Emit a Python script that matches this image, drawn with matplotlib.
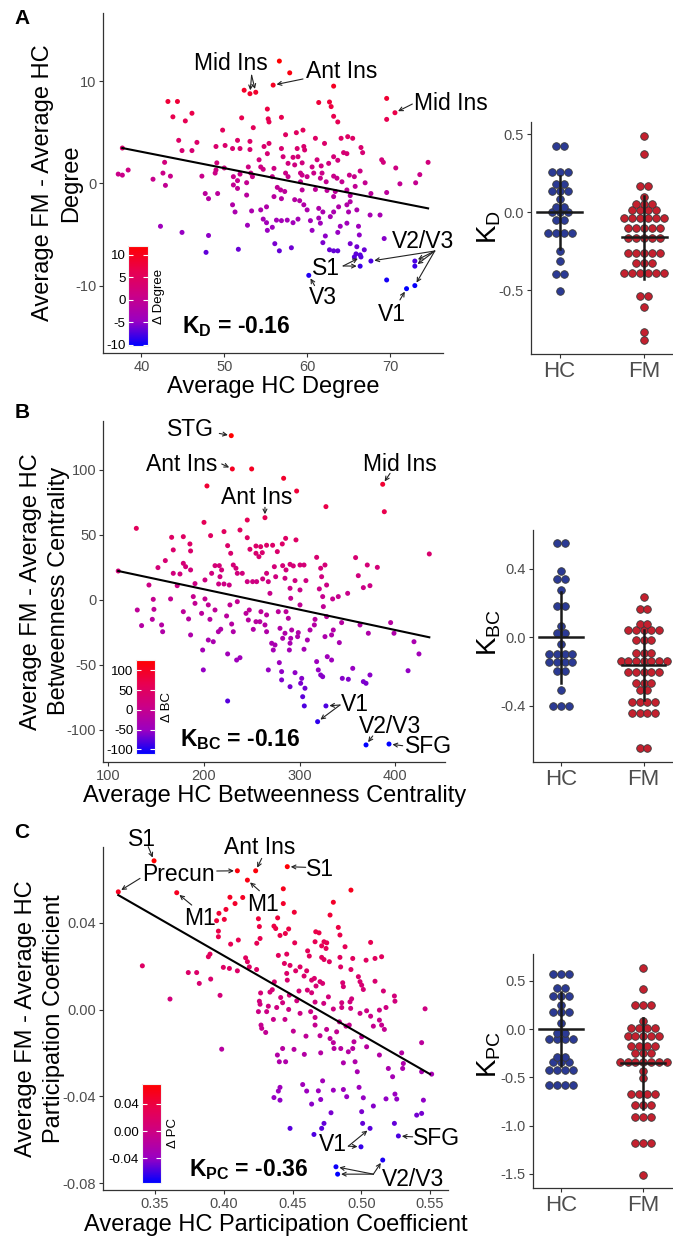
import numpy as np
import matplotlib
matplotlib.use('Agg')
import matplotlib.pyplot as plt
from matplotlib.colors import LinearSegmentedColormap, Normalize
from matplotlib.cm import ScalarMappable

plt.rcParams['font.family'] = ['Liberation Sans', 'DejaVu Sans']
plt.rcParams['mathtext.fontset'] = 'custom'
plt.rcParams['mathtext.rm'] = 'Liberation Sans'
plt.rcParams['mathtext.bf'] = 'Liberation Sans:bold'

# ---- panel A: degree (HC average, FM - HC difference) ----
deg_pts = [
    (56.65, 11.95), (57.9, 10.8), (55.9, 9.6), (52.4, 9.1), (53.1, 8.76), (53.8, 8.9), (63.2, 9.5),
    (69.6, 8.3), (70.6, 6.9), (69.6, 6.25), (43.2, 8.0), (44.35, 8.0), (43.8, 6.5), (46.1, 6.85),
    (45.3, 6.1), (55.2, 7.26), (55.3, 6.3), (55.4, 6.0), (56.9, 6.45), (52.1, 6.4), (53.5, 5.44),
    (61.4, 7.9), (62.7, 7.95), (62.9, 7.5), (63.2, 6.55), (63.7, 6.0), (49.8, 5.2), (44.5, 4.2),
    (46.7, 4.0), (44.9, 3.2), (46.1, 3.2), (42.8, 2.05), (42.6, 1.0), (43.5, 0.7), (42.9, -0.2),
    (41.4, 0.4), (38.4, 1.3), (37.2, 0.9), (37.7, 0.8), (37.7, 3.45), (49.0, 3.6), (50.1, 3.7),
    (51.6, 4.2), (53.1, 4.1), (53.1, 3.3), (51.0, 3.4), (51.9, 3.4), (54.8, 3.6), (55.4, 3.9),
    (55.2, 2.9), (57.4, 4.75), (58.7, 4.95), (59.5, 5.2), (56.9, 3.4), (57.1, 2.6), (58.3, 2.54),
    (58.8, 3.4), (59.6, 3.6), (59.7, 3.26), (61.0, 4.4), (62.1, 3.9), (64.1, 4.4), (64.9, 4.56),
    (65.5, 4.4), (66.5, 3.5), (66.7, 3.0), (64.4, 3.0), (64.8, 2.9), (63.2, 2.6), (63.7, 2.25),
    (62.6, 1.95), (61.2, 2.3), (61.7, 1.7), (60.6, 1.6), (59.4, 2.0), (58.9, 2.6), (58.5, 1.8),
    (57.7, 1.95), (69.2, 2.05), (69.0, 2.3), (70.7, 1.5), (74.6, 2.05), (73.6, 0.85), (73.1, 0.05),
    (71.2, -0.05), (69.6, -0.9), (49.1, 2.0), (48.9, 1.0), (49.0, 1.3), (47.3, 0.7), (50.0, 1.5),
    (51.1, 0.65), (51.9, 0.9), (52.9, 1.6), (54.2, 2.3), (54.4, 1.6), (53.2, 1.0), (53.4, 0.65),
    (54.7, 1.37), (56.0, 1.46), (55.8, 0.65), (57.4, 1.0), (57.7, 0.65), (59.2, 1.0), (59.4, 0.8),
    (60.0, 0.65), (60.8, 1.0), (61.8, 1.0), (61.6, 0.5), (62.3, 0.15), (63.2, 0.7), (63.6, 0.5),
    (64.2, 0.15), (65.1, 0.8), (65.7, 0.65), (66.4, 1.2), (67.0, 0.05), (51.6, 0.26), (52.7, 0.06),
    (51.1, -0.16), (56.4, -0.4), (56.8, -0.65), (57.3, -0.8), (59.2, 0.15), (59.4, -0.65),
    (61.0, -0.6), (62.4, -0.7), (63.4, -0.8), (64.8, -0.65), (65.8, -0.3), (67.7, -1.0),
    (63.2, -1.3), (65.2, -1.2), (47.7, -1.0), (48.1, -1.5), (49.2, -1.0), (51.0, -2.1), (51.3, -2.8),
    (52.7, -1.15), (51.6, -0.5), (53.3, -2.7), (52.8, -4.1), (54.7, -3.5), (55.1, -3.85),
    (55.2, -4.6), (55.8, -4.3), (56.3, -3.6), (56.9, -3.65), (57.6, -3.6), (58.3, -3.85),
    (58.9, -3.5), (60.4, -3.65), (60.6, -4.6), (61.6, -3.9), (62.2, -5.15), (61.4, -3.4),
    (59.6, -2.1), (60.0, -2.6), (59.1, -1.7), (58.5, -1.6), (56.9, -1.5), (56.0, -1.3),
    (55.1, -2.3), (54.4, -2.6), (61.4, -2.45), (61.9, -2.8), (62.8, -3.26), (63.2, -2.8),
    (63.8, -2.3), (64.8, -2.1), (65.0, -2.8), (65.2, -1.8), (66.0, -2.6), (64.8, -3.9),
    (64.0, -4.2), (63.7, -4.8), (66.2, -4.2), (66.3, -5.05), (67.6, -3.1), (68.8, -3.1),
    (69.3, -5.4), (65.2, -5.9), (66.0, -6.2), (61.9, -5.8), (62.7, -6.5), (63.2, -6.6),
    (63.7, -6.6), (65.9, -6.9), (66.9, -6.5), (66.4, -7.0), (65.7, -7.2), (66.5, -7.2),
    (67.7, -7.6), (66.4, -8.1), (73.0, -7.6), (73.0, -8.1), (69.6, -9.45), (72.0, -10.3),
    (73.0, -10.0), (60.2, -9.0), (56.1, -5.9), (56.65, -6.6), (58.1, -6.3), (51.7, -6.45),
    (47.8, -6.75), (48.1, -5.1), (44.9, -4.8), (42.3, -4.2),
]
deg_fit_x = [37.7, 74.6]
deg_fit_y = [3.45, -2.45]

# ---- panel B: betweenness centrality ----
bc_pts = [
    (228.5, 126.4), (229.6, 100.8), (249.8, 100.8), (283.2, 93.6), (296.8, 83.8), (203.1, 87.7),
    (386.7, 89.0), (388.4, 67.9), (327.4, 71.8), (263.7, 63.3), (129.3, 55.1), (200.0, 59.7),
    (245.2, 61.5), (166.2, 48.2), (178.4, 48.7), (206.9, 49.5), (220.9, 52.6), (237.6, 53.8),
    (245.2, 47.9), (185.3, 43.1), (186.0, 37.7), (167.9, 38.5), (224.7, 41.8), (227.9, 35.9),
    (248.0, 39.0), (254.3, 41.5), (259.2, 41.0), (265.4, 42.1), (271.7, 42.1), (276.6, 37.2),
    (281.8, 43.1), (285.3, 47.4), (296.1, 46.2), (254.3, 35.9), (260.9, 36.4), (257.4, 33.3),
    (151.9, 24.9), (159.6, 30.3), (142.5, 11.5), (167.9, 20.5), (174.9, 20.0), (178.4, 28.2),
    (180.8, 25.6), (186.0, 23.1), (190.6, 12.6), (201.0, 15.4), (208.0, 20.5), (211.5, 26.4),
    (216.0, 26.4), (218.4, 23.1), (216.7, 17.9), (215.3, 12.3), (220.9, 12.3), (226.4, 11.5),
    (230.6, 26.9), (233.4, 24.4), (234.8, 20.5), (240.0, 20.5), (245.2, 14.1), (250.8, 14.1),
    (255.0, 14.1), (261.3, 16.2), (265.4, 20.5), (267.2, 14.1), (268.9, 5.1), (273.5, 25.6),
    (282.2, 26.4), (285.7, 23.1), (289.9, 27.4), (293.3, 26.2), (295.1, 14.9), (300.3, 26.9),
    (304.5, 26.9), (306.5, 14.9), (284.6, 16.7), (274.9, 17.9), (317.7, 32.8), (326.4, 26.9),
    (321.9, 24.4), (322.9, 17.9), (328.1, 11.5), (358.4, 32.6), (361.2, 18.7), (370.6, 26.9),
    (381.1, 25.1), (373.4, 11.0), (366.5, 9.5), (350.1, 5.1), (340.3, 2.6), (334.4, 0.8),
    (435.4, 35.4), (110.4, 22.3), (165.1, 0.8), (201.0, 0.8), (320.5, 8.5), (324.0, 2.6),
    (289.9, 9.0), (300.3, 7.7), (290.6, 1.3), (130.3, -7.7), (134.8, -19.7), (147.0, 0.5),
    (146.0, -14.9), (147.7, -7.2), (156.8, -24.4), (155.7, -19.2), (172.0, 11.0), (178.4, -9.0),
    (183.9, -14.6), (186.0, -26.9), (188.8, 2.6), (190.6, -2.6), (197.5, -10.3), (198.6, -38.5),
    (199.3, -53.8), (204.5, -3.8), (204.5, -30.8), (206.2, -14.9), (209.7, -32.1), (211.5, -7.7),
    (215.0, -24.4), (217.5, -22.5), (223.6, -12.3), (224.7, -41.5), (224.7, -77.7), (227.1, -3.8),
    (228.9, -18.5), (230.6, -24.4), (234.1, -46.2), (234.8, -1.3), (237.6, -44.4), (243.9, -10.3),
    (246.3, -15.4), (247.3, -7.7), (251.5, -22.6), (254.3, -16.7), (258.4, -16.7), (259.5, -9.0),
    (263.7, -19.2), (265.4, -24.4), (265.4, -11.5), (267.2, -53.8), (270.7, -33.3), (272.4, -38.5),
    (274.2, -34.6), (277.6, -9.0), (278.7, -48.2), (279.4, -21.8), (281.1, -55.1), (281.1, -61.5),
    (282.2, -29.5), (284.6, -25.6), (285.7, -9.0), (288.1, -14.1), (289.2, -38.5), (289.9, -33.3),
    (290.6, -29.5), (289.9, -66.7), (291.6, -23.1), (295.1, -55.9), (297.8, -28.2), (298.5, -25.1),
    (300.3, -3.8), (301.0, -64.1), (302.1, -60.3), (303.1, -74.4), (304.5, -37.9), (304.8, -81.5),
    (305.5, -67.9), (308.0, -30.8), (310.8, -23.1), (316.0, -14.9), (317.7, -47.4), (315.3, -19.2),
    (319.4, -53.8), (318.7, -93.6), (321.9, -57.7), (324.0, -59.0), (324.7, -5.1), (326.4, -28.2),
    (327.4, -81.5), (328.8, -43.6), (328.1, -12.8), (333.3, -46.2), (333.3, -26.9), (335.1, -23.1),
    (341.4, -32.8), (343.8, -17.4), (344.5, -60.3), (350.8, -61.0), (355.4, -52.6), (363.0, -19.2),
    (366.5, -62.8), (369.3, -64.1), (373.4, -57.7), (369.3, -111.5), (371.7, -25.6),
    (393.3, -110.8), (395.0, -17.4), (398.5, -25.6), (419.4, -32.1), (424.6, -41.5),
    (413.2, -54.4),
]
bc_fit_x = [110.4, 435.4]
bc_fit_y = [22.3, -28.7]

# ---- panel C: participation coefficient ----
pc_pts = [
    (0.3493, 0.0686), (0.3233, 0.0543), (0.4099, 0.0640), (0.4232, 0.0640), (0.4172, 0.0597),
    (0.4462, 0.0659), (0.3658, 0.0539), (0.4433, 0.0557), (0.4925, 0.0551), (0.4797, 0.0495),
    (0.4773, 0.0436), (0.4433, 0.0489), (0.4513, 0.0449), (0.4045, 0.0518), (0.4082, 0.0489),
    (0.4138, 0.0517), (0.4016, 0.0462), (0.3965, 0.0444), (0.3948, 0.0410), (0.4004, 0.0416),
    (0.3961, 0.0362), (0.3961, 0.0336), (0.4252, 0.0419), (0.4259, 0.0383), (0.4264, 0.0328),
    (0.4240, 0.0306), (0.4050, 0.0302), (0.4106, 0.0321), (0.4392, 0.0423), (0.4365, 0.0385),
    (0.4378, 0.0374), (0.4472, 0.0372), (0.4448, 0.0351), (0.4409, 0.0342), (0.4516, 0.0308),
    (0.4833, 0.0379), (0.4845, 0.0344), (0.4882, 0.0290), (0.4664, 0.0313), (0.4712, 0.0294),
    (0.4729, 0.0313), (0.4749, 0.0308), (0.4744, 0.0282), (0.4669, 0.0359), (0.4693, 0.0354),
    (0.4610, 0.0271), (0.4622, 0.0247), (0.4712, 0.0241), (0.4729, 0.0231), (0.4768, 0.0221),
    (0.4845, 0.0241), (0.4850, 0.0197), (0.4938, 0.0236), (0.4925, 0.0185), (0.5068, 0.0310),
    (0.5100, 0.0236), (0.5148, 0.0244), (0.5035, 0.0228), (0.4397, 0.0250), (0.4458, 0.0256),
    (0.4441, 0.0213), (0.4482, 0.0204), (0.4523, 0.0179), (0.4555, 0.0197), (0.4603, 0.0179),
    (0.4639, 0.0136), (0.4659, 0.0144), (0.4700, 0.0129), (0.4719, 0.0121), (0.4584, 0.0155),
    (0.4547, 0.0086), (0.4608, 0.0090), (0.4639, 0.0078), (0.4671, 0.0109), (0.4761, 0.0059),
    (0.4865, 0.0124), (0.4870, 0.0106), (0.4979, 0.0152), (0.4991, 0.0129), (0.5003, 0.0113),
    (0.5015, 0.0093), (0.5100, 0.0131), (0.5161, 0.0086), (0.5241, 0.0063), (0.5245, 0.0039),
    (0.5464, 0.0004), (0.5180, 0.0010), (0.5132, -0.0002), (0.5039, -0.0005), (0.4930, 0.0050),
    (0.4918, 0.0036), (0.4858, 0.0032), (0.4858, 0.0010), (0.4797, 0.0003), (0.4727, 0.0029),
    (0.4664, 0.0035), (0.4632, -0.0009), (0.4555, -0.0017), (0.4531, 0.0041), (0.4477, 0.0067),
    (0.4428, 0.0032), (0.4414, 0.0056), (0.4353, 0.0092), (0.4336, 0.0081), (0.4268, 0.0077),
    (0.4259, 0.0039), (0.4264, 0.0025), (0.4324, 0.0016), (0.4312, -0.0009), (0.4385, 0.0010),
    (0.4472, 0.0001), (0.4252, -0.0009), (0.4368, 0.0128), (0.4462, 0.0136), (0.4458, 0.0167),
    (0.3408, 0.0202), (0.3609, 0.0049), (0.3742, 0.0171), (0.3803, 0.0171), (0.3822, 0.0121),
    (0.3905, 0.0141), (0.3973, 0.0066), (0.3888, 0.0244), (0.3900, 0.0256), (0.3997, 0.0195),
    (0.4041, 0.0190), (0.4099, 0.0179), (0.4159, 0.0239), (0.4172, 0.0221), (0.4186, 0.0197),
    (0.4239, 0.0185), (0.3985, -0.0182), (0.4271, -0.0071), (0.4276, -0.0086), (0.4305, -0.0105),
    (0.4361, -0.0045), (0.4445, -0.0045), (0.4506, -0.0099), (0.4428, -0.0179), (0.4390, -0.0209),
    (0.4404, -0.0240), (0.4450, -0.0240), (0.4511, -0.0183), (0.4598, -0.0122), (0.4586, -0.0206),
    (0.4664, -0.0071), (0.4700, -0.0120), (0.4664, -0.0036), (0.4705, -0.0199), (0.4748, -0.0091),
    (0.4773, -0.0133), (0.4797, -0.0152), (0.4802, -0.0179), (0.4821, -0.0102), (0.4841, -0.0056),
    (0.4851, -0.0179), (0.4870, -0.0245), (0.4889, -0.0076), (0.4913, -0.0071), (0.4906, -0.0194),
    (0.4938, -0.0179), (0.4947, -0.0148), (0.4955, -0.0240), (0.4971, -0.0286), (0.5003, -0.0125),
    (0.4923, 0.0006), (0.5068, -0.0030), (0.5088, -0.0076), (0.5132, -0.0048), (0.5148, -0.0071),
    (0.5168, -0.0091), (0.5039, -0.0171), (0.5132, -0.0209), (0.5197, -0.0271), (0.5228, -0.0309),
    (0.5294, -0.0199), (0.5306, -0.0248), (0.5301, -0.0271), (0.5439, -0.0152), (0.5512, -0.0297),
    (0.5439, -0.0286), (0.5452, -0.0417), (0.5403, -0.0486), (0.5439, -0.0478), (0.5245, -0.0389),
    (0.5258, -0.0412), (0.5180, -0.0411), (0.5088, -0.0444), (0.5015, -0.0406), (0.5003, -0.0470),
    (0.4984, -0.0358), (0.4894, -0.0401), (0.4870, -0.0368), (0.4797, -0.0371), (0.4780, -0.0475),
    (0.4719, -0.0328), (0.4705, -0.0414), (0.4688, -0.0374), (0.4639, -0.0435), (0.4574, -0.0345),
    (0.4603, -0.0375), (0.4409, -0.0358), (0.4397, -0.0375), (0.4365, -0.0405), (0.4409, -0.0417),
    (0.4482, -0.0547), (0.4656, -0.0575), (0.4712, -0.0547), (0.4729, -0.0524), (0.5010, -0.0524),
    (0.5064, -0.0547), (0.5241, -0.0524), (0.5270, -0.0582), (0.4998, -0.0632), (0.5156, -0.0693),
    (0.4816, -0.0724), (0.4828, -0.0758), (0.4991, -0.0017),
]
pc_fit_x = [0.3233, 0.5500]
pc_fit_y = [0.0528, -0.0297]

# ---- per-subject K values (dot plots) ----
kd_hc = [0.426, 0.426, 0.26, 0.26, 0.26, 0.18, 0.18, 0.139, 0.139, 0.139, 0.083, 0.032, 0.032,
         0.0, 0.0, 0.0, -0.049, -0.049, -0.132, -0.132, -0.132, -0.132, -0.25, -0.31,
         -0.394, -0.394, -0.501]
kd_fm = [0.49, 0.373, 0.17, 0.17, 0.1, 0.051, 0.051, 0.051, 0.013, 0.013, 0.013, 0.013,
         -0.038, -0.038, -0.038, -0.038, -0.038, -0.038, -0.098, -0.098, -0.098, -0.098, -0.098,
         -0.162, -0.162, -0.162, -0.162, -0.162, -0.262, -0.262, -0.262, -0.262, -0.262,
         -0.322, -0.322, -0.322, -0.39, -0.39, -0.39, -0.39, -0.39, -0.39, -0.533, -0.533,
         -0.608, -0.765, -0.817]
kd_mean = [0.0, -0.16]
kd_sd = [0.235, 0.267]

kbc_hc = [0.549, 0.549, 0.389, 0.339, 0.339, 0.276, 0.185, 0.185, 0.066, 0.023, 0.023, -0.039,
          -0.099, -0.099, -0.099, -0.099, -0.142, -0.142, -0.142, -0.142, -0.2, -0.2, -0.31,
          -0.401, -0.401, -0.401]
kbc_fm = [0.236, 0.165, 0.165, 0.076, 0.076, 0.041, 0.041, 0.041, 0.041, 0.041, -0.018, -0.018,
          -0.018, -0.09, -0.09, -0.09, -0.136, -0.136, -0.136, -0.136, -0.136, -0.136, -0.136,
          -0.204, -0.204, -0.204, -0.204, -0.204, -0.265, -0.265, -0.265, -0.306, -0.306,
          -0.381, -0.381, -0.381, -0.381, -0.444, -0.444, -0.444, -0.444, -0.648, -0.648]
kbc_mean = [0.0, -0.16]
kbc_sd = [0.265, 0.205]

kpc_hc = [0.569, 0.569, 0.569, 0.421, 0.421, 0.345, 0.345, 0.345, 0.245, 0.179, 0.179, 0.179,
          0.059, -0.038, -0.038, -0.107, -0.107, -0.107, -0.107, -0.286, -0.286, -0.345, -0.345,
          -0.345, -0.424, -0.424, -0.424, -0.424, -0.583, -0.583, -0.583, -0.583]
kpc_fm = [0.631, 0.417, 0.252, 0.252, 0.252, 0.086, 0.01, 0.01, 0.01, 0.01, -0.072, -0.072,
          -0.072, -0.072, -0.072, -0.172, -0.172, -0.172, -0.172, -0.245, -0.245, -0.245,
          -0.338, -0.338, -0.338, -0.338, -0.338, -0.338, -0.338, -0.434, -0.503, -0.672, -0.672,
          -0.672, -0.672, -0.786, -0.786, -0.786, -0.914, -0.914, -0.914, -1.183, -1.183, -1.183,
          -1.507]
kpc_mean = [0.0, -0.355]
kpc_sd = [0.38, 0.474]

groups = ['HC', 'FM']

# ggplot-like blue -> red gradient (Lab interpolated)
cmap = LinearSegmentedColormap.from_list('bluered', ['#0000FF', '#9A00C2', '#CA0088', '#E80050', '#FF0000'])
hc_col = '#2B3A94'
fm_col = '#C4202E'
axis_col = '#333333'
tick_txt = '#4D4D4D'

W, H = 673, 1236
fig = plt.figure(figsize=(W / 100, H / 100), dpi=100)


def rect(left, top, right, bottom):
    return [left / W, 1 - bottom / H, (right - left) / W, (bottom - top) / H]


def style_axes(ax, fs):
    for s in ['top', 'right']:
        ax.spines[s].set_visible(False)
    for s in ['left', 'bottom']:
        ax.spines[s].set_color(axis_col)
        ax.spines[s].set_linewidth(0.9)
    ax.tick_params(colors=axis_col, labelcolor=tick_txt, length=3, width=0.8, labelsize=fs, pad=2)


def scatter_panel(r, pts, fit_x, fit_y, xlim, ylim, xticks, xlabels, yticks, ylabels,
                  xtitle, ytitle, title_x, ann, ktext, kpos):
    ax = fig.add_axes(rect(*r))
    pts = np.array(pts)
    x, y = pts[:, 0], pts[:, 1]
    norm = Normalize(y.min(), y.max())
    ax.scatter(x, y, c=y, cmap=cmap, norm=norm, s=13, linewidths=0, zorder=3)
    ax.plot(fit_x, fit_y, color='black', lw=1.5, zorder=4)
    ax.set_xlim(*xlim)
    ax.set_ylim(*ylim)
    ax.set_xticks(xticks, xlabels)
    ax.set_yticks(yticks, ylabels)
    style_axes(ax, 10.5)
    ax.set_xlabel(xtitle, fontsize=17, labelpad=2)
    # two-line y title, one text per line
    cy = 1 - (r[1] + r[3]) / 2 / H
    for k, line in enumerate(ytitle):
        fig.text((title_x - 14 + 28 * k) / W, cy, line, rotation=90, ha='center', va='center', fontsize=17)
    for text, txy, arrows in ann:
        ax.text(txy[0], txy[1], text, fontsize=16.5, ha='center', va='center', zorder=6, clip_on=False)
        for start, end in arrows:
            ax.annotate('', xy=end, xytext=start,
                        arrowprops=dict(arrowstyle='->', lw=0.8, color='#222222',
                                        shrinkA=0, shrinkB=2.5, mutation_scale=7),
                        annotation_clip=False, zorder=6)
    ax.text(kpos[0], kpos[1], ktext, fontsize=16.5, fontweight='bold', ha='center', va='center', zorder=6)
    return norm


def colorbar(r, norm, ticks, labels, title):
    cax = fig.add_axes(rect(*r))
    cb = fig.colorbar(ScalarMappable(norm=norm, cmap=cmap), cax=cax)
    cb.outline.set_edgecolor('#f2f2f2')
    cb.outline.set_linewidth(0.8)
    cb.set_ticks(ticks, labels=labels)
    cax.tick_params(left=True, right=True, labelleft=True, labelright=False, direction='in',
                    color='white', length=3.5, width=0.8, labelsize=9.5, pad=2)
    cax.yaxis.set_label_position('right')
    cb.set_label(title, rotation=90, fontsize=9.5, labelpad=4)


def dot_panel(r, hc, fm, means, sds, ylim, yticks, ylabels, ylabel, label_y, step):
    ax = fig.add_axes(rect(*r))
    for i, (vals, col) in enumerate([(hc, hc_col), (fm, fm_col)]):
        u, counts = np.unique(np.asarray(vals), return_counts=True)
        xs, ys = [], []
        for v, n in zip(u, counts):
            offs = (np.arange(n) - (n - 1) / 2) * step
            xs.extend(i + 1 + offs)
            ys.extend([v] * n)
        ax.scatter(xs, ys, s=30, color=col, edgecolor='#3a3a3a', linewidths=0.6, zorder=2)
        ax.plot([i + 1 - 0.265, i + 1 + 0.265], [means[i], means[i]], color='#1a1a1a', lw=1.8, zorder=3)
        ax.plot([i + 1, i + 1], [means[i] - sds[i], means[i] + sds[i]], color='#1a1a1a', lw=1.8, zorder=3)
    ax.set_ylim(*ylim)
    ax.set_yticks(yticks, ylabels)
    ax.set_xticks([1, 2], groups)
    style_axes(ax, 10.5)
    ax.tick_params(axis='x', labelsize=16, pad=2)
    fig.text(489 / W, 1 - label_y / H, ylabel, rotation=90, ha='center', va='center', fontsize=20)
    return ax


# ---------------- Panel A ----------------
ann_A = [
    ('Mid Ins', (50.75, 11.75), [((53.3, 10.56), (53.1, 8.76)), ((53.3, 10.56), (53.8, 8.9))]),
    ('Ant Ins', (64.15, 10.95), [((59.5, 10.2), (55.9, 9.6))]),
    ('Mid Ins', (77.35, 7.85), [((72.7, 7.75), (70.6, 6.9))]),
    ('V2/V3', (74.0, -5.65), [((75.4, -6.62), (67.7, -7.6)), ((75.4, -6.62), (73.0, -7.6)),
                              ((75.4, -6.62), (73.0, -8.1)), ((75.4, -6.62), (73.0, -10.0))]),
    ('S1', (62.3, -8.3), [((64.35, -8.08), (66.5, -7.2)), ((64.35, -8.08), (66.4, -8.1))]),
    ('V3', (61.9, -11.2), [((60.9, -10.0), (60.2, -9.0))]),
    ('V1', (70.2, -12.8), [((71.2, -11.4), (72.0, -10.3))]),
]
norm_A = scatter_panel((103.3, 13, 443, 352.7), deg_pts, deg_fit_x, deg_fit_y,
                       (35.4, 76.4), (-16.56, 16.65), [40, 50, 60, 70], ['40', '50', '60', '70'],
                       [-10, 0, 10], ['-10', '0', '10'], 'Average HC Degree',
                       ['Average FM - Average HC', 'Degree'], 57, ann_A,
                       r'K$_\mathbf{D}$ = -0.16', (51.4, -14.0))
colorbar((128.3, 246, 147.7, 346), norm_A, [-10, -5, 0, 5, 10], ['-10', '-5', '0', '5', '10'], 'Δ Degree')
dot_panel((530.7, 121.7, 673, 354), kd_hc, kd_fm, kd_mean, kd_sd, (-0.906, 0.579),
          [-0.5, 0.0, 0.5], ['-0.5', '0.0', '0.5'], r'K$_\mathregular{D}$', 227, 0.095)

# ---------------- Panel B ----------------
ann_B = [
    ('STG', (186.1, 131.0), [((216, 128.1), (228.5, 126.4))]),
    ('Ant Ins', (176.5, 104.2), [((218.5, 104.6), (229.6, 100.8))]),
    ('Ant Ins', (255.1, 78.5), [((263.7, 71.3), (263.7, 63.3))]),
    ('Mid Ins', (404.8, 104.2), [((394.4, 97.4), (386.7, 89.0))]),
    ('V1', (357.8, -80.5), [((342.1, -80.8), (327.4, -81.5)), ((342.1, -80.8), (318.7, -93.6))]),
    ('V2/V3', (394.4, -97.2), [((376.3, -104.6), (369.3, -111.5))]),
    ('SFG', (434.5, -113.0), [((407.6, -112.1), (393.3, -110.8))]),
]
norm_B = scatter_panel((103.3, 420.7, 445, 761.7), bc_pts, bc_fit_x, bc_fit_y,
                       (94.8, 451.8), (-124.4, 137.9), [100, 200, 300, 400], ['100', '200', '300', '400'],
                       [-100, -50, 0, 50, 100], ['-100', '-50', '0', '50', '100'],
                       'Average HC Betweenness Centrality',
                       ['Average FM - Average HC', 'Betweenness Centrality'], 45, ann_B,
                       r'K$_\mathbf{BC}$ = -0.16', (237.6, -107.7))
colorbar((136, 660, 155, 754), norm_B, [-100, -50, 0, 50, 100], ['-100', '-50', '0', '50', '100'], 'Δ BC')
dot_panel((532.7, 530, 673, 762.3), kbc_hc, kbc_fm, kbc_mean, kbc_sd, (-0.731, 0.627),
          [-0.4, 0.0, 0.4], ['-0.4', '0.0', '0.4'], r'K$_\mathregular{BC}$', 632, 0.093)

# ---------------- Panel C ----------------
ann_C = [
    ('S1', (0.3403, 0.0782), [((0.3451, 0.0751), (0.3493, 0.0686))]),
    ('Precun', (0.3670, 0.0621), [((0.3949, 0.0639), (0.4099, 0.0640)),
                                  ((0.3391, 0.0605), (0.3233, 0.0543))]),
    ('Ant Ins', (0.4259, 0.0748), [((0.4276, 0.0697), (0.4232, 0.0640))]),
    ('S1', (0.4700, 0.0647), [((0.4596, 0.0656), (0.4462, 0.0659))]),
    ('M1', (0.4288, 0.0483), [((0.4259, 0.0548), (0.4172, 0.0597))]),
    ('M1', (0.3827, 0.0421), [((0.3767, 0.0482), (0.3658, 0.0539))]),
    ('V1', (0.4797, -0.0623), [((0.4906, -0.0629), (0.5064, -0.0547)),
                               ((0.4906, -0.0629), (0.4998, -0.0632))]),
    ('SFG', (0.5549, -0.0593), [((0.5374, -0.0586), (0.5270, -0.0582))]),
    ('V2/V3', (0.5378, -0.0784), [((0.5088, -0.0758), (0.4816, -0.0724)),
                                  ((0.5088, -0.0758), (0.4828, -0.0758)),
                                  ((0.5088, -0.0758), (0.5156, -0.0693))]),
]
norm_C = scatter_panel((103.3, 846.7, 448.3, 1190), pc_pts, pc_fit_x, pc_fit_y,
                       (0.3124, 0.5633), (-0.0831, 0.0751), [0.35, 0.40, 0.45, 0.50, 0.55],
                       ['0.35', '0.40', '0.45', '0.50', '0.55'],
                       [-0.08, -0.04, 0.0, 0.04], ['-0.08', '-0.04', '0.00', '0.04'],
                       'Average HC Participation Coefficient',
                       ['Average FM - Average HC', 'Participation Coefficient'], 40, ann_C,
                       r'K$_\mathbf{PC}$ = -0.36', (0.4179, -0.0739))
colorbar((141.7, 1084.3, 161, 1182.7), norm_C, [-0.04, 0.0, 0.04], ['-0.04', '0.00', '0.04'], 'Δ PC')
dot_panel((532.7, 954, 673, 1188.3), kpc_hc, kpc_fm, kpc_mean, kpc_sd, (-1.648, 0.776),
          [-1.5, -1.0, -0.5, 0.0, 0.5], ['-1.5', '-1.0', '-0.5', '0.0', '0.5'],
          r'K$_\mathregular{PC}$', 1054, 0.095)

for letter, y in [('A', 18), ('B', 413), ('C', 833)]:
    fig.text(22 / W, 1 - y / H, letter, fontsize=15, fontweight='bold', ha='center', va='center')

fig.savefig('out.png', dpi=100, facecolor='white')
